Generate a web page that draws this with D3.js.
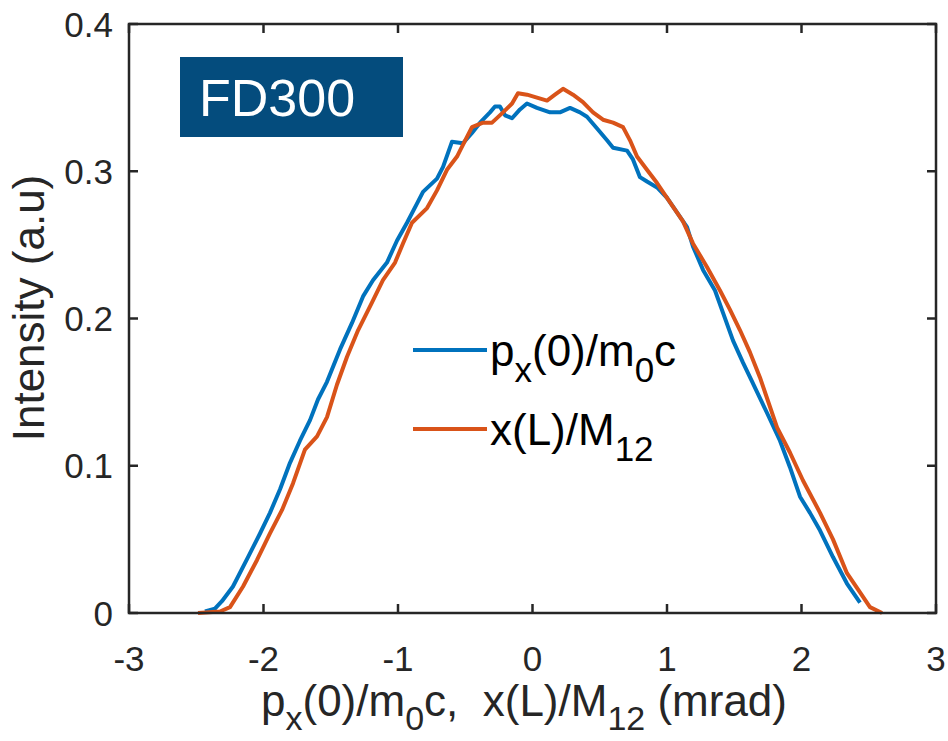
<!DOCTYPE html>
<html><head><meta charset="utf-8">
<script src="https://cdn.jsdelivr.net/npm/d3@7"></script>
<style>body{margin:0;background:#fff} svg{display:block}</style>
</head><body>
<svg id="c" width="948" height="741"></svg>
<script>
const xTicks = [-3, -2, -1, 0, 1, 2, 3];
const yTicks = [0, 0.1, 0.2, 0.3, 0.4];
const yTickLabels = ["0", "0.1", "0.2", "0.3", "0.4"];

const blueX = [-2.435,-2.361,-2.309,-2.227,-2.115,-2.026,-1.952,-1.877,-1.803,-1.729,-1.654,-1.595,-1.528,-1.431,-1.342,-1.260,-1.186,-1.082,-1.007,-0.933,-0.859,-0.814,-0.710,-0.665,-0.599,-0.517,-0.450,-0.390,-0.316,-0.279,-0.242,-0.204,-0.152,-0.093,-0.041,0.033,0.130,0.204,0.279,0.353,0.405,0.480,0.554,0.599,0.703,0.747,0.799,0.851,0.926,1.000,1.074,1.149,1.193,1.268,1.357,1.416,1.491,1.565,1.639,1.743,1.840,1.914,1.989,2.063,2.138,2.234,2.338,2.435];
const blueY = [0.001,0.003,0.008,0.018,0.038,0.054,0.068,0.084,0.102,0.117,0.131,0.145,0.157,0.179,0.197,0.215,0.226,0.238,0.253,0.265,0.278,0.286,0.295,0.303,0.320,0.319,0.326,0.333,0.340,0.344,0.344,0.338,0.336,0.342,0.346,0.343,0.340,0.340,0.343,0.340,0.337,0.329,0.321,0.316,0.314,0.308,0.296,0.293,0.289,0.282,0.272,0.262,0.249,0.233,0.219,0.204,0.185,0.170,0.156,0.136,0.117,0.099,0.079,0.068,0.056,0.038,0.020,0.007];

const orangeX = [-2.487,-2.323,-2.249,-2.152,-2.048,-1.952,-1.862,-1.781,-1.692,-1.602,-1.528,-1.454,-1.379,-1.297,-1.193,-1.112,-1.022,-0.963,-0.896,-0.784,-0.710,-0.636,-0.561,-0.539,-0.450,-0.368,-0.301,-0.219,-0.152,-0.108,-0.041,0.033,0.108,0.167,0.227,0.301,0.375,0.450,0.524,0.599,0.673,0.725,0.777,0.851,0.926,1.000,1.119,1.193,1.297,1.394,1.468,1.543,1.617,1.691,1.818,1.914,2.011,2.138,2.234,2.338,2.435,2.509,2.599];
const orangeY = [0.000,0.001,0.004,0.018,0.036,0.054,0.070,0.088,0.111,0.120,0.133,0.155,0.174,0.192,0.211,0.226,0.238,0.251,0.265,0.275,0.287,0.301,0.310,0.314,0.330,0.333,0.333,0.340,0.346,0.353,0.352,0.350,0.348,0.352,0.356,0.352,0.347,0.340,0.335,0.333,0.330,0.321,0.310,0.301,0.292,0.282,0.266,0.251,0.235,0.219,0.206,0.192,0.177,0.160,0.126,0.109,0.090,0.068,0.050,0.027,0.014,0.004,0.000];

const seriesColors = ["#0072BD", "#D95319"];
// label segments: [text, isSubscript]
const legendLabels = [
  [["p", 0], ["x", 1], ["(0)/m", 0], ["0", 1], ["c", 0]],
  [["x(L)/M", 0], ["12", 1]]
];
const xLabel = [["p", 0], ["x", 1], ["(0)/m", 0], ["0", 1], ["c,\u00a0 x(L)/M", 0], ["12", 1], [" (mrad)", 0]];
const yLabel = "Intensity (a.u)";
const badgeText = "FD300";

const FONT = "'Liberation Sans', Arial, sans-serif";
const svg = d3.select("#c");
const L = 129, R = 936, T = 24, B = 613;
const x = d3.scaleLinear().domain([-3, 3]).range([L, R]);
const y = d3.scaleLinear().domain([0, 0.4]).range([B, T]);
const axisColor = "#262626";

function addSegs(textSel, segs, size, subSize, subDy) {
  segs.forEach(([t, sub], i) => {
    const prevSub = i > 0 ? segs[i-1][1] : 0;
    const ts = textSel.append("tspan").text(t)
      .attr("font-size", sub ? subSize : size);
    if (sub && !prevSub) ts.attr("dy", subDy);
    else if (!sub && prevSub) ts.attr("dy", -subDy);
  });
}

// curves
const line = d3.line().x(d => x(d[0])).y(d => y(d[1]));
const series = [d3.zip(blueX, blueY), d3.zip(orangeX, orangeY)];
const g = svg.append("g");
series.forEach((s, i) => {
  g.append("path").datum(s).attr("d", line)
    .attr("fill", "none").attr("stroke", seriesColors[i])
    .attr("stroke-width", 4).attr("stroke-linejoin", "round");
});

// axes (box with inward ticks)
const tickLen = 9;
const axG = svg.append("g").attr("stroke", axisColor).attr("stroke-width", 2.5);
axG.append("rect").attr("x", L).attr("y", T).attr("width", R - L).attr("height", B - T)
  .attr("fill", "none");
xTicks.forEach(v => {
  axG.append("line").attr("x1", x(v)).attr("x2", x(v)).attr("y1", B).attr("y2", B - tickLen);
  axG.append("line").attr("x1", x(v)).attr("x2", x(v)).attr("y1", T).attr("y2", T + tickLen);
});
yTicks.forEach(v => {
  axG.append("line").attr("x1", L).attr("x2", L + tickLen).attr("y1", y(v)).attr("y2", y(v));
  axG.append("line").attr("x1", R).attr("x2", R - tickLen).attr("y1", y(v)).attr("y2", y(v));
});

// tick labels
const tickFs = 35;
svg.append("g").selectAll("text").data(xTicks).join("text")
  .attr("x", d => x(d)).attr("y", 671).attr("text-anchor", "middle")
  .attr("font-family", FONT).attr("font-size", tickFs).attr("fill", axisColor)
  .text(d => d);
svg.append("g").selectAll("text").data(yTicks).join("text")
  .attr("x", L - 16).attr("y", d => y(d)).attr("dy", "0.36em").attr("text-anchor", "end")
  .attr("font-family", FONT).attr("font-size", tickFs).attr("fill", axisColor)
  .text((d, i) => yTickLabels[i]);

// axis labels
const xl = svg.append("text").attr("x", 524).attr("y", 716).attr("text-anchor", "middle")
  .attr("font-family", FONT).attr("fill", axisColor);
addSegs(xl, xLabel, 44, 34, 14);
svg.append("text").attr("transform", `translate(44,308) rotate(-90)`)
  .attr("text-anchor", "middle").attr("font-family", FONT).attr("font-size", 44)
  .attr("fill", axisColor).text(yLabel);

// legend
const legY = [350, 429];
legendLabels.forEach((segs, i) => {
  svg.append("line").attr("x1", 413).attr("x2", 487).attr("y1", legY[i]).attr("y2", legY[i])
    .attr("stroke", seriesColors[i]).attr("stroke-width", 4);
  const t = svg.append("text").attr("x", 490).attr("y", legY[i] + 16)
    .attr("font-family", FONT).attr("fill", "#000");
  addSegs(t, segs, 44, 35, 16);
});

// badge
svg.append("rect").attr("x", 180).attr("y", 57).attr("width", 223).attr("height", 80).attr("fill", "#044C7D");
svg.append("text").attr("x", 199).attr("y", 116).attr("font-family", FONT).attr("font-size", 52)
  .attr("fill", "#fff").text(badgeText);
</script>
</body></html>
